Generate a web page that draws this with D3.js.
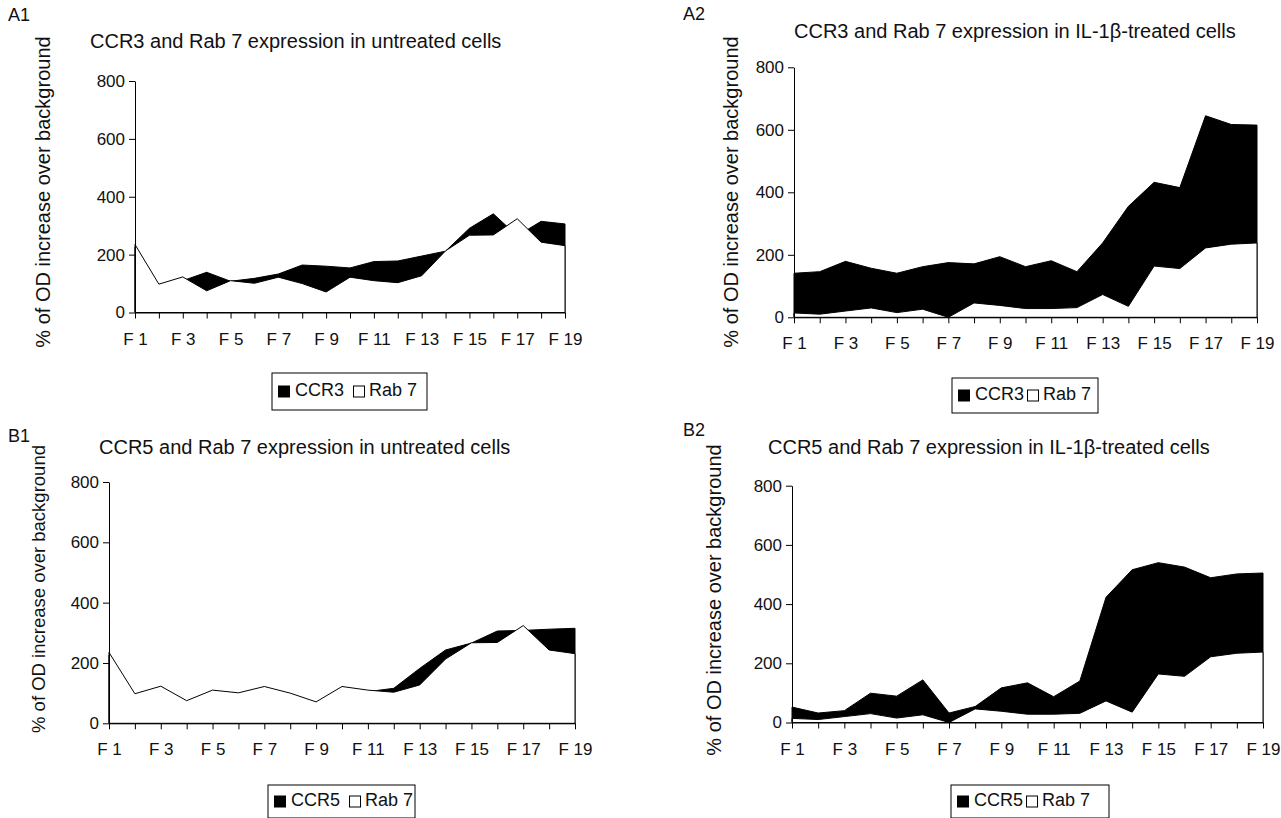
<!DOCTYPE html>
<html>
<head>
<meta charset="utf-8">
<script src="https://cdn.jsdelivr.net/npm/d3@7"></script>
<style>
  body { margin: 0; background: #fff; }
  svg { display: block; font-family: "Liberation Sans", Arial, sans-serif; }
</style>
</head>
<body>
<svg id="chart" width="1281" height="818"></svg>
<script>
const categories = ['F 1', 'F 2', 'F 3', 'F 4', 'F 5', 'F 6', 'F 7', 'F 8', 'F 9', 'F 10',
  'F 11', 'F 12', 'F 13', 'F 14', 'F 15', 'F 16', 'F 17', 'F 18', 'F 19'];
const yTicks = [0, 200, 400, 600, 800];

// Rab 7 is the same in both chemokine receptor panels of one treatment
const rab7Untreated = [235, 98, 123, 75, 110, 101, 122, 100, 71, 122, 110, 103, 127, 213, 267, 268, 324, 243, 231];
const rab7Treated = [14, 10, 20, 30, 15, 26, 0, 46, 38, 28, 28, 31, 73, 35, 164, 156, 222, 234, 238];
const ccr3Untreated = [225, 90, 110, 139, 108, 118, 133, 164, 160, 154, 176, 178, 195, 212, 291, 341, 265, 315, 306];
const ccr3Treated = [141, 146, 179, 157, 141, 162, 175, 171, 194, 162, 181, 146, 238, 355, 432, 415, 645, 617, 615];
const ccr5Untreated = [225, 90, 115, 70, 100, 95, 115, 95, 65, 115, 105, 116, 182, 243, 266, 306, 308, 312, 315];
const ccr5Treated = [52, 32, 40, 99, 89, 144, 32, 54, 117, 134, 87, 140, 423, 516, 540, 525, 489, 502, 505];

const yLabel = '% of OD increase over background';

const panels = [
  { tag: 'A1', title: 'CCR3 and Rab 7 expression in untreated cells', name: 'CCR3',
    receptor: ccr3Untreated, rab: rab7Untreated,
    x0: 135, x1: 565, yBottom: 312.5, yTop: 81, tagPos: [8, 16], titlePos: [90, 43],
    yLab: [45, 192, 20], legend: [272, 373, 155, 37], gap: true },
  { tag: 'A2', title: 'CCR3 and Rab 7 expression in IL-1β-treated cells', name: 'CCR3',
    receptor: ccr3Treated, rab: rab7Treated,
    x0: 794, x1: 1257, yBottom: 317.3, yTop: 67.3, tagPos: [683, 15], titlePos: [794, 33],
    yLab: [733, 192, 20], legend: [952, 378, 146, 35], gap: false },
  { tag: 'B1', title: 'CCR5 and Rab 7 expression in untreated cells', name: 'CCR5',
    receptor: ccr5Untreated, rab: rab7Untreated,
    x0: 109, x1: 575, yBottom: 723.3, yTop: 482, tagPos: [8, 437], titlePos: [99, 449],
    yLab: [40, 589, 18.5], legend: [268, 785, 147, 33], gap: true },
  { tag: 'B2', title: 'CCR5 and Rab 7 expression in IL-1β-treated cells', name: 'CCR5',
    receptor: ccr5Treated, rab: rab7Treated,
    x0: 792, x1: 1263, yBottom: 722.5, yTop: 485.7, tagPos: [683, 431], titlePos: [768, 449],
    yLab: [716, 600, 20], legend: [951, 785, 158, 33], gap: false }
];

const svg = d3.select('#chart');

function drawPanel (p) {
  const g = svg.append('g');

  const x = d3.scalePoint().domain(categories).range([p.x0, p.x1]).padding(0);
  const y = d3.scaleLinear().domain([0, 800]).range([p.yBottom, p.yTop]);

  const area = d3.area()
    .x((d, i) => x(categories[i]))
    .y0(y(0))
    .y1(d => y(d));

  // receptor drawn behind, Rab 7 in front (overlapping area chart)
  g.append('path')
    .datum(p.receptor)
    .attr('d', area)
    .style('fill', '#000')
    .style('stroke', '#000')
    .style('stroke-width', 1);

  g.append('path')
    .datum(p.rab)
    .attr('d', area)
    .style('fill', '#fff')
    .style('stroke', '#000')
    .style('stroke-width', 1);

  const yAxis = g.append('g')
    .attr('transform', `translate(${p.x0},0)`)
    .call(d3.axisLeft(y).tickValues(yTicks).tickSize(6).tickPadding(4).tickSizeOuter(0));

  const xAxis = g.append('g')
    .attr('transform', `translate(0,${p.yBottom})`)
    .call(d3.axisBottom(x).tickSize(6).tickPadding(14).tickSizeOuter(0)
      .tickFormat((d, i) => i % 2 === 0 ? d : ''));

  [yAxis, xAxis].forEach(a => {
    a.select('.domain').style('stroke', '#000').style('stroke-width', 1);
    a.selectAll('line').style('stroke', '#000');
    a.selectAll('text').style('font-size', '17px').style('fill', '#111').attr('font-family', null);
  });

  g.append('text')
    .attr('x', p.tagPos[0])
    .attr('y', p.tagPos[1])
    .attr('dominant-baseline', 'middle')
    .style('font-size', '18px')
    .style('fill', '#111')
    .text(p.tag);

  g.append('text')
    .attr('x', p.titlePos[0])
    .attr('y', p.titlePos[1])
    .attr('dominant-baseline', 'middle')
    .style('font-size', '20px')
    .style('fill', '#111')
    .text(p.title);

  g.append('text')
    .attr('transform', `translate(${p.yLab[0]},${p.yLab[1]}) rotate(-90)`)
    .attr('text-anchor', 'middle')
    .attr('dominant-baseline', 'middle')
    .style('font-size', p.yLab[2] + 'px')
    .style('fill', '#111')
    .text(yLabel);

  // legend
  const [lx, ly, lw, lh] = p.legend;
  const lg = g.append('g');
  lg.append('rect')
    .attr('x', lx).attr('y', ly).attr('width', lw).attr('height', lh)
    .style('fill', '#fff').style('stroke', '#000').style('stroke-width', 1);

  const cy = ly + lh / 2;
  let cx = lx + 6;
  lg.append('rect').attr('x', cx).attr('y', cy - 6).attr('width', 12).attr('height', 12)
    .style('fill', '#000');
  cx += 17;
  const t1 = lg.append('text').attr('x', cx).attr('y', cy).attr('dominant-baseline', 'middle')
    .style('font-size', '18px').style('fill', '#111').text(p.name);
  cx += t1.node().getComputedTextLength() + (p.gap ? 9 : 3);
  lg.append('rect').attr('x', cx + 0.5).attr('y', cy - 5.5).attr('width', 11).attr('height', 11)
    .style('fill', '#fff').style('stroke', '#000').style('stroke-width', 1);
  cx += 16;
  lg.append('text').attr('x', cx).attr('y', cy).attr('dominant-baseline', 'middle')
    .style('font-size', '18px').style('fill', '#111').text('Rab 7');
}

panels.forEach(drawPanel);
</script>
</body>
</html>
